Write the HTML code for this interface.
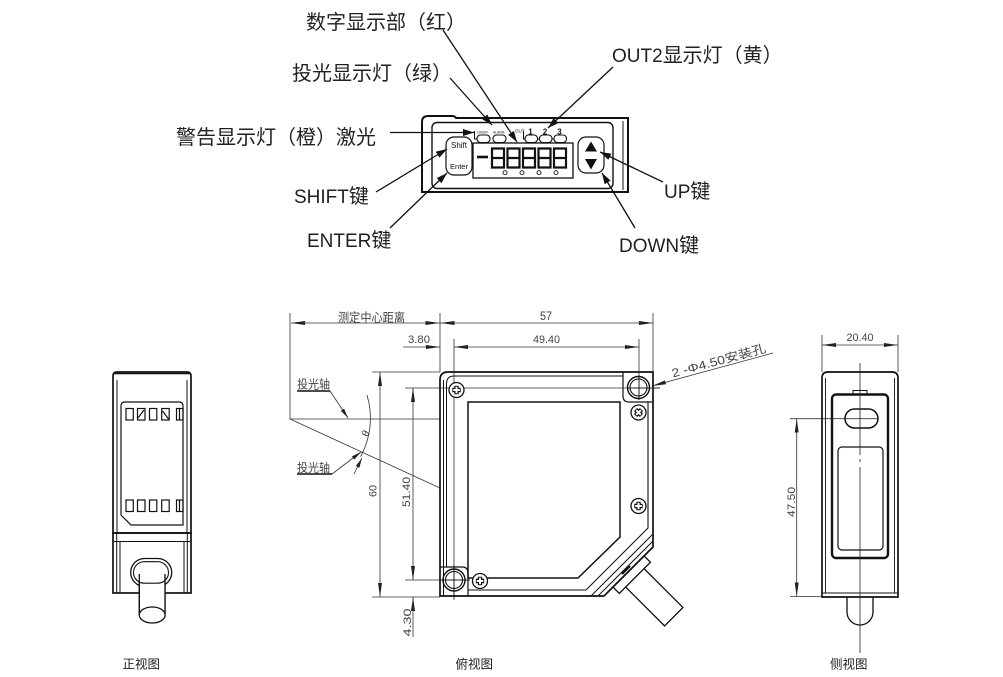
<!DOCTYPE html>
<html><head><meta charset="utf-8"><style>
html,body{margin:0;padding:0;background:#fff;}
svg{display:block;}
.lbl{font-family:"Liberation Sans","Noto Sans CJK SC",sans-serif;font-size:19px;fill:#231f20;}
.cj{font-size:20px;}
.cad{font-family:"Liberation Sans","Noto Sans CJK SC",sans-serif;fill:#444;}
.cap{font-family:"Liberation Sans","Noto Sans CJK SC",sans-serif;font-size:12.5px;fill:#222;}
</style></head><body>
<svg width="1003" height="677" viewBox="0 0 1003 677" xmlns="http://www.w3.org/2000/svg">
<defs>
<marker id="la" viewBox="0 0 11 7" refX="11" refY="3.5" markerWidth="11" markerHeight="7" markerUnits="userSpaceOnUse" orient="auto-start-reverse"><path d="M0,0 L11,3.5 L0,7 z" fill="#111"/></marker>
<marker id="da" viewBox="0 0 14 4" refX="14" refY="2" markerWidth="14" markerHeight="4" markerUnits="userSpaceOnUse" orient="auto-start-reverse"><path d="M0,0 L14,2 L0,4 z" fill="#222"/></marker>
<marker id="sa" viewBox="0 0 10 4" refX="10" refY="2" markerWidth="10" markerHeight="4" markerUnits="userSpaceOnUse" orient="auto-start-reverse"><path d="M0,0 L10,2 L0,4 z" fill="#222"/></marker>
<g id="screw"><circle r="7.5" fill="#fff" stroke="#111" stroke-width="1.3"/><path d="M-4.2,0H4.2M0,-4.2V4.2" stroke="#111" stroke-width="4.4" fill="none"/><path d="M-3.3,0H3.3M0,-3.3V3.3" stroke="#fff" stroke-width="2" fill="none"/></g>
</defs>

<!-- ============ TOP LABELS ============ -->
<text class="lbl cj" x="306" y="29">数字显示部（红）</text>
<text class="lbl cj" x="292" y="80">投光显示灯（绿）</text>
<text class="lbl cj" x="176" y="144">警告显示灯（橙）激光</text>
<text class="lbl" x="294" y="203">SHIFT<tspan class="cj">键</tspan></text>
<text class="lbl" x="307" y="247">ENTER<tspan class="cj">键</tspan></text>
<text class="lbl" x="612" y="62">OUT2<tspan class="cj">显示灯（黄）</tspan></text>
<text class="lbl" x="664" y="198">UP<tspan class="cj">键</tspan></text>
<text class="lbl" x="619" y="252">DOWN<tspan class="cj">键</tspan></text>

<!-- ============ TOP DEVICE ============ -->
<g stroke="#111" fill="none">
  <path d="M422,192 L422,122 Q422,116 428,116 L452,116 Q455,116 456,118 L628,118 L628,192 Z" stroke-width="2"/>
  <line x1="623" y1="121" x2="623" y2="190" stroke-width="1"/>
  <rect x="432" y="122.5" width="181" height="66" rx="5" stroke-width="1.4"/>
  <rect x="446" y="137" width="26" height="38" rx="8" stroke-width="1.2"/>
  <rect x="473" y="143" width="100" height="35" stroke-width="1.3"/>
  <rect x="578" y="137" width="26" height="36" rx="8" stroke-width="1.2"/>
  <rect x="477" y="135" width="13" height="7.5" rx="3.5" stroke-width="1.1"/>
  <rect x="493" y="135" width="13" height="7.5" rx="3.5" stroke-width="1.1"/>
  <rect x="525" y="135" width="12.5" height="7.5" rx="3.5" stroke-width="1.1"/>
  <rect x="539.5" y="135" width="12.5" height="7.5" rx="3.5" stroke-width="1.1"/>
  <rect x="554" y="135" width="12.5" height="7.5" rx="3.5" stroke-width="1.1"/>
  <path d="M474.5,131 V139 H477 M523.5,131 V139 H525 M537.5,139 H539.5 M552,139 H554" stroke-width="1"/>
  <line x1="477" y1="157" x2="488" y2="157" stroke-width="2.6"/>
  <g stroke-width="2.2">
    <path d="M492,148.5 h12 v19 h-12 z M492,158 h12"/>
    <path d="M507.5,148.5 h12 v19 h-12 z M507.5,158 h12"/>
    <path d="M523,148.5 h12 v19 h-12 z M523,158 h12"/>
    <path d="M538.5,148.5 h12 v19 h-12 z M538.5,158 h12"/>
    <path d="M554,148.5 h12 v19 h-12 z M554,158 h12"/>
  </g>
  <g stroke-width="0.9">
    <circle cx="505" cy="172.7" r="2"/><circle cx="522" cy="172.7" r="2"/>
    <circle cx="539" cy="172.7" r="2"/><circle cx="556" cy="172.7" r="2"/>
  </g>
</g>
<path d="M591,141.5 L597,151.5 L585,151.5 Z" fill="#111"/>
<path d="M585,159 L597,159 L591,169.5 Z" fill="#111"/>
<g font-family="Liberation Sans, sans-serif" fill="#111">
  <text x="459" y="148" font-size="8" text-anchor="middle">Shift</text>
  <text x="459" y="169" font-size="7.5" text-anchor="middle">Enter</text>
  <text x="477" y="133.3" font-size="3.3">LASER</text>
  <text x="493" y="133.3" font-size="3.3">ALARM</text>
  <text x="515" y="132.5" font-size="4.5">OUT</text>
  <text x="530.5" y="134.5" font-size="8" font-weight="bold" text-anchor="middle">1</text>
  <text x="545" y="134.5" font-size="8" font-weight="bold" text-anchor="middle">2</text>
  <text x="559.5" y="134.5" font-size="8" font-weight="bold" text-anchor="middle">3</text>
</g>

<g stroke="#111" stroke-width="1.3" fill="none" marker-end="url(#la)">
  <line x1="443" y1="30" x2="517" y2="142"/>
  <line x1="450" y1="78" x2="492" y2="125"/>
  <line x1="390" y1="132.5" x2="474" y2="132.5"/>
  <line x1="376" y1="192" x2="447" y2="149"/>
  <line x1="390" y1="228" x2="447" y2="173"/>
  <line x1="613" y1="67" x2="548" y2="128"/>
  <line x1="663" y1="182" x2="600" y2="152"/>
  <line x1="635" y1="228" x2="602" y2="173"/>
</g>

<!-- ============ FRONT VIEW ============ -->
<g stroke="#111" fill="none">
  <path d="M113,533 L113,376 Q113,372 117,372 L187,372 Q191,372 191,376 L191,533 Z" stroke-width="1.7"/>
  <line x1="114" y1="373.5" x2="190" y2="373.5" stroke-width="1.5"/>
  <line x1="117" y1="380" x2="117" y2="533" stroke-width="1"/>
  <line x1="187" y1="380" x2="187" y2="533" stroke-width="1"/>
  <path d="M121,406 Q121,402 125,402 L179,402 Q183,402 183,406 L183,525 L131,525 L121,515 Z" stroke-width="1.2"/>
  <g stroke-width="1.2">
    <rect x="126" y="408.5" width="7.3" height="11.5"/>
    <rect x="137.5" y="408.5" width="7.5" height="11.5"/>
    <rect x="149.5" y="408.5" width="7.3" height="11.5"/>
    <rect x="161.7" y="408.5" width="7.5" height="11.5"/>
    <rect x="176.5" y="408.5" width="6.5" height="11.5"/>
    <line x1="179.5" y1="408.5" x2="179.5" y2="420"/>
    <line x1="138" y1="418" x2="144" y2="410"/>
    <line x1="162.5" y1="411" x2="168.5" y2="419"/>
    <rect x="126" y="500" width="7.3" height="11.5"/>
    <rect x="137.5" y="500" width="7.5" height="11.5"/>
    <rect x="149.5" y="500" width="7.3" height="11.5"/>
    <rect x="161.7" y="500" width="7.5" height="11.5"/>
    <rect x="176.5" y="500" width="6.5" height="11.5"/>
    <line x1="179.5" y1="500" x2="179.5" y2="511.5"/>
  </g>
  <rect x="113" y="533" width="78" height="60" stroke-width="1.7"/>
  <line x1="113" y1="541.5" x2="191" y2="541.5" stroke-width="1"/>
  <line x1="116.7" y1="533" x2="116.7" y2="593" stroke-width="1"/>
  <line x1="187.3" y1="533" x2="187.3" y2="593" stroke-width="1"/>
  <line x1="120" y1="542" x2="120" y2="593" stroke-width="1"/>
  <line x1="184" y1="542" x2="184" y2="593" stroke-width="1"/>
  <rect x="130.7" y="558.5" width="41" height="28" rx="14" stroke-width="1.3" fill="#fff"/>
  <rect x="133.5" y="561.7" width="35" height="21.5" rx="10.8" stroke-width="1.1"/>
  <path d="M139.3,574 L139.3,615 M165,574 L165,615" stroke-width="1.3"/>
  <rect x="140" y="584" width="24.5" height="30" fill="#fff" stroke="none"/>
  <path d="M139.3,583 L139.3,615 M165,583 L165,615" stroke-width="1.3"/>
  <ellipse cx="152.2" cy="615" rx="12.9" ry="8" stroke-width="1.3" fill="#fff"/>
</g>

<!-- ============ TOP VIEW ============ -->
<g stroke="#333" stroke-width="0.8" fill="none">
  <line x1="290" y1="313" x2="290" y2="419"/>
  <line x1="440" y1="313" x2="440" y2="372"/>
  <line x1="653" y1="313" x2="653" y2="372"/>
  <line x1="454" y1="339" x2="454" y2="600"/>
  <line x1="639" y1="339" x2="639" y2="400"/>
  <line x1="291" y1="323" x2="439.5" y2="323" marker-start="url(#da)" marker-end="url(#da)"/>
  <line x1="440.5" y1="323" x2="653" y2="323" marker-start="url(#da)" marker-end="url(#da)"/>
  <line x1="403" y1="347" x2="440" y2="347" marker-end="url(#da)"/>
  <line x1="454" y1="347" x2="639" y2="347" marker-start="url(#da)" marker-end="url(#da)"/>
  <line x1="372" y1="372" x2="440" y2="372"/>
  <line x1="372" y1="597" x2="440" y2="597"/>
  <line x1="405" y1="388" x2="660" y2="388"/>
  <line x1="405" y1="580" x2="470" y2="580"/>
  <line x1="380" y1="372" x2="380" y2="597" marker-start="url(#da)" marker-end="url(#da)"/>
  <line x1="413" y1="388" x2="413" y2="580" marker-start="url(#da)" marker-end="url(#da)"/>
  <line x1="413" y1="597" x2="413" y2="637" marker-start="url(#da)"/>
  <line x1="290" y1="419" x2="440" y2="419"/>
  <line x1="290" y1="419" x2="440" y2="488"/>
  <path d="M367,395 A80,80 0 0 1 360.6,456.6"/>
  <line x1="652" y1="386" x2="773" y2="353" marker-start="url(#da)"/>
  <line x1="330" y1="391" x2="348" y2="418" marker-end="url(#sa)"/>
  <line x1="332" y1="474" x2="361" y2="452" marker-end="url(#sa)"/>
  <line x1="354" y1="474" x2="362" y2="458" marker-end="url(#sa)"/>
</g>
<g stroke="#111" stroke-width="1.5">
  <line x1="297" y1="391" x2="330" y2="391"/>
  <line x1="297" y1="474" x2="332" y2="474"/>
</g>
<g class="cad">
  <text x="338" y="322" font-size="12.5" textLength="67" lengthAdjust="spacingAndGlyphs">测定中心距离</text>
  <text x="540" y="320" font-size="12" textLength="12" lengthAdjust="spacingAndGlyphs">57</text>
  <text x="408" y="343" font-size="11" textLength="22" lengthAdjust="spacingAndGlyphs">3.80</text>
  <text x="533" y="343" font-size="11" textLength="27" lengthAdjust="spacingAndGlyphs">49.40</text>
  <text x="297" y="388.5" font-size="12" textLength="33" lengthAdjust="spacingAndGlyphs">投光轴</text>
  <text x="297" y="472" font-size="12" textLength="33" lengthAdjust="spacingAndGlyphs">投光轴</text>
  <text transform="translate(368,437) rotate(-75)" font-size="10" font-style="italic">θ</text>
  <text transform="translate(376.5,491) rotate(-90)" font-size="11" text-anchor="middle" textLength="12" lengthAdjust="spacingAndGlyphs">60</text>
  <text transform="translate(410,492) rotate(-90)" font-size="11" text-anchor="middle" textLength="30" lengthAdjust="spacingAndGlyphs">51.40</text>
  <text transform="translate(411,622.5) rotate(-90)" font-size="11" text-anchor="middle" textLength="28" lengthAdjust="spacingAndGlyphs">4.30</text>
  <text transform="translate(673,377.5) rotate(-15.3)" font-size="12" textLength="97" lengthAdjust="spacingAndGlyphs">2 -Φ4.50安装孔</text>
  <text x="846.5" y="341" font-size="11" textLength="27" lengthAdjust="spacingAndGlyphs">20.40</text>
  <text transform="translate(795,502) rotate(-90)" font-size="11" text-anchor="middle" textLength="30" lengthAdjust="spacingAndGlyphs">47.50</text>
</g>

<g stroke="#111" fill="none">
  <g transform="translate(628.5,571.5) rotate(45)" fill="#fff" stroke-width="1.3">
    <rect x="8" y="-13" width="56" height="26"/>
    <rect x="0" y="-22" width="9" height="44"/>
  </g>
  <path d="M440,596 L440,380 Q440,372 448,372 L653,372 L653,547 L604,596 Z" stroke-width="1.7" fill="none"/>
  <line x1="443.5" y1="380" x2="443.5" y2="596" stroke-width="1"/>
  <path d="M446.5,567 L446.5,384 Q446.5,376 454,376 L623,376" stroke-width="1"/>
  <path d="M468,590 L586,590 L648,528 L648,402" stroke-width="1.1"/>
  <line x1="653" y1="541" x2="598" y2="596" stroke-width="1"/>
  <line x1="653" y1="534" x2="591" y2="596" stroke-width="1"/>
  <line x1="630" y1="566" x2="622" y2="574" stroke-width="2.2"/>
  <path d="M468,402 L620,402 L620,537 L578,578 L468,578 Z" stroke-width="1.5"/>
  <path d="M623,372 L623,396 Q623,402 629,402 L653,402" stroke-width="1.2"/>
  <path d="M440,567 L462,567 Q468,567 468,573 L468,596" stroke-width="1.2"/>
  <circle cx="638.5" cy="387.5" r="11" stroke-width="1.4"/>
  <circle cx="638.5" cy="387.5" r="8.5" stroke-width="1.1"/>
  <circle cx="454" cy="580" r="11" stroke-width="1.4"/>
  <circle cx="454" cy="580" r="8.5" stroke-width="1.1"/>
  <line x1="627" y1="388" x2="660" y2="388" stroke-width="0.8"/>
  <line x1="440" y1="580" x2="470" y2="580" stroke-width="0.8"/>
  <line x1="454" y1="565" x2="454" y2="598" stroke-width="0.8"/>
  <line x1="639" y1="375" x2="639" y2="400" stroke-width="0.8"/>
</g>
<use href="#screw" transform="translate(456.5,390)"/>
<use href="#screw" transform="translate(638.5,412.5) rotate(45)"/>
<use href="#screw" transform="translate(638.5,506)"/>
<use href="#screw" transform="translate(480,581)"/>

<!-- ============ SIDE VIEW ============ -->
<g stroke="#333" stroke-width="0.8" fill="none">
  <line x1="822" y1="335" x2="822" y2="372"/>
  <line x1="898" y1="335" x2="898" y2="372"/>
  <line x1="822" y1="345" x2="898" y2="345" marker-start="url(#da)" marker-end="url(#da)"/>
  <line x1="790" y1="418.7" x2="878" y2="418.7"/>
  <line x1="790" y1="596.5" x2="822" y2="596.5"/>
  <line x1="796.7" y1="418.7" x2="796.7" y2="596.5" marker-start="url(#da)" marker-end="url(#da)"/>
</g>
<g stroke="#111" fill="none">
  <path d="M822,597 L822,378 Q822,372 828,372 L892,372 Q898,372 898,378 L898,597 Z" stroke-width="1.7"/>
  <line x1="825.5" y1="378" x2="825.5" y2="593" stroke-width="0.9"/>
  <line x1="894.5" y1="378" x2="894.5" y2="593" stroke-width="0.9"/>
  <line x1="822" y1="593" x2="898" y2="593" stroke-width="1"/>
  <rect x="853" y="390.5" width="14" height="3.5" stroke-width="1"/>
  <rect x="832" y="394.5" width="56" height="163.5" rx="4" stroke-width="2.4"/>
  <rect x="845" y="409" width="33" height="19" rx="9.5" stroke-width="1.5"/>
  <rect x="838" y="447" width="45" height="103" rx="4" stroke-width="1.2"/>
  <path d="M847,597 L847,612 A13,13 0 0 0 873,612 L873,597" stroke-width="1.3"/>
</g>
<g stroke="#222" stroke-width="0.8">
  <line x1="860" y1="363" x2="860" y2="455"/>
  <line x1="860" y1="459" x2="860" y2="462"/>
  <line x1="860" y1="467" x2="860" y2="653"/>
</g>

<text class="cap" x="122.5" y="668.5">正视图</text>
<text class="cap" x="455.5" y="668.5">俯视图</text>
<text class="cap" x="830" y="668.5">侧视图</text>
</svg>
</body></html>
